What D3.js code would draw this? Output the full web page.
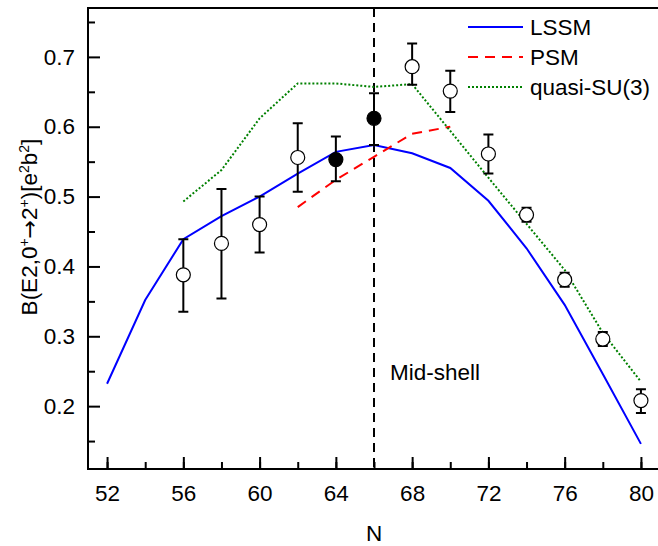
<!DOCTYPE html>
<meta charset="utf-8">
<style>
body { margin: 0; background: #fff; }
svg { font-family: "Liberation Sans", Arial, sans-serif; }
.axis text { font-size: 22.5px; fill: #000; }
.axis line { stroke: #000; stroke-width: 2; }
.axis path { display: none; }
.frame { fill: none; stroke: #000; stroke-width: 2; }
.err { stroke: #000; stroke-width: 2; fill: none; }
</style>
<svg width="658" height="546"></svg>
<script src="https://d3js.org/d3.v7.min.js"></script>
<script>

// neutron number
var N = [52, 54, 56, 58, 60, 62, 64, 66, 68, 70, 72, 74, 76, 78, 80];

var lssm = [0.232, 0.352, 0.439, 0.472, 0.500, 0.533, 0.564, 0.574, 0.562, 0.541, 0.494, 0.426, 0.345, 0.246, 0.146];

var psmN = [62, 64, 66, 68, 70];
var psm = [0.485, 0.524, 0.557, 0.590, 0.600];

var suN = [56, 58, 60, 62, 64, 66, 68, 70, 72, 74, 76, 78, 80];
var su3 = [0.493, 0.538, 0.612, 0.662, 0.662, 0.657, 0.661, 0.594, 0.527, 0.461, 0.395, 0.305, 0.235];

// experimental points
var expN   = [56, 58, 60, 62, 64, 66, 68, 70, 72, 74, 76, 78, 80];
var expVal = [0.388, 0.433, 0.460, 0.556, 0.553, 0.612, 0.686, 0.651, 0.561, 0.474, 0.381, 0.296, 0.208];
var expLo  = [0.335, 0.354, 0.420, 0.507, 0.522, 0.574, 0.660, 0.621, 0.533, 0.464, 0.371, 0.286, 0.190];
var expHi  = [0.439, 0.511, 0.500, 0.605, 0.586, 0.648, 0.719, 0.680, 0.589, 0.484, 0.391, 0.306, 0.224];
var expFilled = [false, false, false, false, true, true, false, false, false, false, false, false, false];

var xTicks = [52, 56, 60, 64, 68, 72, 76, 80];
var yTicks = [0.2, 0.3, 0.4, 0.5, 0.6, 0.7];

var svg = d3.select("svg");

var x = d3.scaleLinear().domain([51, 81]).range([88, 660]);
var y = d3.scaleLinear().domain([0.11, 0.77]).range([469, 8]);

// minor ticks
svg.append("g")
    .attr("class", "axis")
    .attr("transform", "translate(0,469)")
    .call(d3.axisBottom(x).tickValues(d3.range(52, 81, 2)).tickSize(-7).tickFormat(""));
svg.append("g")
    .attr("class", "axis")
    .attr("transform", "translate(88,0)")
    .call(d3.axisLeft(y).tickValues([0.15, 0.25, 0.35, 0.45, 0.55, 0.65, 0.75]).tickSize(-7).tickFormat(""));

// major ticks
svg.append("g")
    .attr("class", "axis")
    .attr("transform", "translate(0,469)")
    .call(d3.axisBottom(x).tickValues(xTicks).tickSize(-12).tickPadding(16).tickFormat(d3.format("d")));
svg.append("g")
    .attr("class", "axis")
    .attr("transform", "translate(88,0)")
    .call(d3.axisLeft(y).tickValues(yTicks).tickSize(-12).tickPadding(13).tickFormat(d3.format(".1f")));

svg.append("path")
    .attr("class", "frame")
    .attr("d", "M660,8H88V469H660");

// mid-shell marker
svg.append("line")
    .attr("x1", x(66)).attr("x2", x(66))
    .attr("y1", 8).attr("y2", 469)
    .attr("stroke", "#000").attr("stroke-width", 2)
    .attr("stroke-dasharray", "9,6");

svg.append("text")
    .attr("x", 390).attr("y", 380)
    .attr("font-size", 22.5)
    .text("Mid-shell");

var line = d3.line().x(function(d) { return x(d[0]); }).y(function(d) { return y(d[1]); });

svg.append("path")
    .datum(d3.zip(N, lssm))
    .attr("d", line)
    .attr("fill", "none").attr("stroke", "#0000ff").attr("stroke-width", 2);

svg.append("path")
    .datum(d3.zip(psmN, psm))
    .attr("d", line)
    .attr("fill", "none").attr("stroke", "#ff0000").attr("stroke-width", 2)
    .attr("stroke-dasharray", "10,7");

svg.append("path")
    .datum(d3.zip(suN, su3))
    .attr("d", line)
    .attr("fill", "none").attr("stroke", "#008000").attr("stroke-width", 2)
    .attr("stroke-dasharray", "2,2");

// error bars
var pts = expN.map(function(n, i) {
  return {n: n, v: expVal[i], lo: expLo[i], hi: expHi[i], filled: expFilled[i]};
});

svg.selectAll(".eb").data(pts).enter().append("path")
    .attr("class", "err")
    .attr("d", function(d) {
      var cx = x(d.n), y1 = y(d.lo), y2 = y(d.hi);
      return "M" + (cx - 5) + "," + y2 + "H" + (cx + 5) +
             "M" + cx + "," + y2 + "V" + y1 +
             "M" + (cx - 5) + "," + y1 + "H" + (cx + 5);
    });

svg.selectAll(".pt").data(pts).enter().append("circle")
    .attr("cx", function(d) { return x(d.n); })
    .attr("cy", function(d) { return y(d.v); })
    .attr("r", 7)
    .attr("fill", function(d) { return d.filled ? "#000" : "#fff"; })
    .attr("stroke", "#000").attr("stroke-width", 1.2);

// legend
var legend = [
  {name: "LSSM", color: "#0000ff", dash: null},
  {name: "PSM", color: "#ff0000", dash: "10,7"},
  {name: "quasi-SU(3)", color: "#008000", dash: "2,2"}
];
var lg = svg.selectAll(".lg").data(legend).enter().append("g")
    .attr("transform", function(d, i) { return "translate(0," + (27 + i * 30) + ")"; });
lg.append("line")
    .attr("x1", 468).attr("x2", 523)
    .attr("stroke", function(d) { return d.color; })
    .attr("stroke-width", 2)
    .attr("stroke-dasharray", function(d) { return d.dash; });
lg.append("text")
    .attr("x", 530).attr("y", 8)
    .attr("font-size", 22.5)
    .text(function(d) { return d.name; });

// axis titles
svg.append("text")
    .attr("x", x(66)).attr("y", 541)
    .attr("text-anchor", "middle")
    .attr("font-size", 22.5)
    .text("N");

var yl = svg.append("text")
    .attr("transform", "translate(37,227) rotate(-90)")
    .attr("text-anchor", "middle")
    .attr("font-size", 22.5);
yl.append("tspan").text("B(E2,0");
yl.append("tspan").attr("font-size", 14).attr("baseline-shift", "55%").text("+");
yl.append("tspan").attr("font-family", "DejaVu Sans").attr("font-size", 22).text("\u2192");
yl.append("tspan").text("2");
yl.append("tspan").attr("font-size", 14).attr("baseline-shift", "55%").text("+");
yl.append("tspan").text(")[e");
yl.append("tspan").attr("font-size", 14).attr("baseline-shift", "55%").text("2");
yl.append("tspan").text("b");
yl.append("tspan").attr("font-size", 14).attr("baseline-shift", "55%").text("2");
yl.append("tspan").text("]");

</script>
